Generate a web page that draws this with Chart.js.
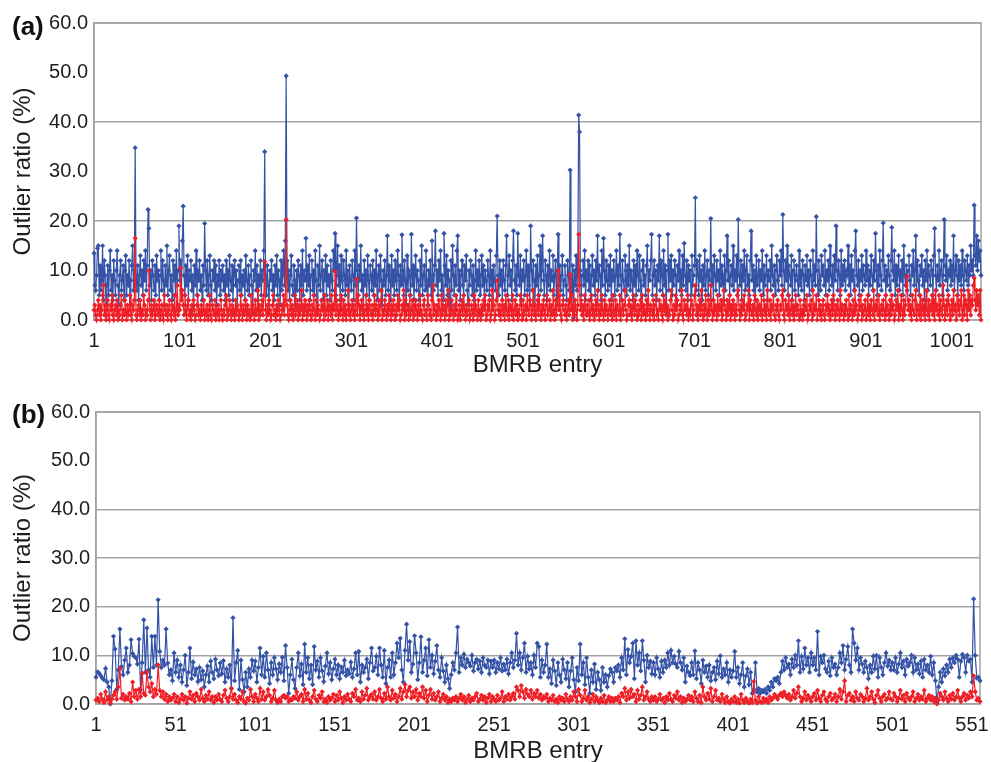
<!DOCTYPE html>
<html>
<head>
<meta charset="utf-8">
<title>Outlier ratio per BMRB entry</title>
<script src="https://cdn.jsdelivr.net/npm/chart.js@4.4.1/dist/chart.umd.min.js"></script>
<style>
    body {
        margin: 0;
        width: 991px;
        height: 762px;
        overflow: hidden;
        position: relative;
        background: #fff;
        font-family: "Liberation Sans", Arial, sans-serif;
    }
    canvas {
        position: absolute;
        left: 0;
    }
    .panel-label {
        position: absolute;
        left: 12px;
        z-index: 2;
        font-size: 26px;
        font-weight: bold;
        color: #111;
    }
</style>
</head>
<body>
<canvas id="chart-a" width="991" height="380" style="top:0"></canvas>
<canvas id="chart-b" width="991" height="386" style="top:380px"></canvas>
<div class="panel-label" style="top:11px">(a)</div>
<div class="panel-label" style="top:399px">(b)</div>

<script>
// ---- data ----

// panel (a): 1035 entries, 25 per row
const blueA = [
    13.5, 7, 6, 9, 14.5, 15, 5, 11, 6, 8, 15, 4, 12, 9, 3, 7, 11, 5, 10, 14, 6, 9, 4, 12, 8,
    5, 10, 14, 7, 3, 9, 12, 6, 8, 11, 4, 10, 13, 5, 9, 7, 12, 3, 8, 11, 15, 6, 10, 34.8, 9,
    6, 11, 4, 9, 13, 7, 10, 5, 12, 8, 14, 6, 11, 22.3, 18.5, 7, 10, 4, 12, 9, 6, 11, 5, 13, 8,
    10, 4, 9, 14, 6, 12, 8, 3, 11, 7, 15, 5, 10, 13, 6, 9, 4, 12, 8, 11, 5, 14, 7, 10, 19,
    8, 12, 6, 16, 23, 9, 5, 11, 7, 13, 4, 10, 8, 12, 6, 9, 3, 11, 7, 14, 5, 10, 8, 12, 6,
    9, 4, 11, 7, 19.5, 10, 6, 12, 5, 9, 13, 7, 4, 10, 8, 12, 6, 11, 3, 9, 7, 12, 5, 10, 8,
    11, 6, 9, 4, 12, 7, 10, 5, 13, 8, 6, 11, 4, 9, 12, 7, 10, 3, 8, 11, 6, 12, 5, 9, 7,
    10, 4, 13, 8, 6, 11, 5, 9, 12, 7, 1.5, 10, 8, 14, 6, 11, 4, 9, 7, 12, 5, 10, 8, 14, 34,
    9, 5, 11, 7, 3, 10, 8, 12, 6, 9, 4, 11, 7, 13, 5, 10, 8, 3, 12, 6, 9, 14, 7, 16, 49.3,
    12, 6, 10, 4, 9, 13, 7, 5, 11, 8, 3, 10, 6, 12, 9, 4, 11, 7, 14, 5, 10, 8, 16.5, 6, 11,
    7, 13, 4, 9, 12, 6, 10, 5, 14, 8, 2, 11, 7, 15, 6, 9, 12, 4, 10, 8, 13, 5, 11, 7, 9,
    4, 12, 8, 6, 14, 10, 17.5, 5, 9, 15, 7, 11, 4, 13, 8, 6, 12, 9, 5, 14, 7, 10, 3, 11, 8,
    6, 12, 9, 4, 14, 7, 20.6, 10, 5, 11, 8, 15, 6, 9, 2, 12, 7, 10, 5, 13, 8, 4, 11, 9, 6,
    12, 5, 10, 7, 14, 4, 9, 11, 6, 13, 8, 3, 10, 7, 12, 5, 9, 17, 6, 11, 8, 4, 13, 7, 10,
    5, 12, 8, 6, 14, 9, 4, 11, 7, 17.2, 10, 5, 12, 8, 3, 13, 6, 10, 9, 5, 17.3, 7, 11, 4, 9,
    13, 6, 10, 8, 4, 12, 7, 15, 5, 9, 11, 6, 14, 8, 3, 10, 7, 12, 5, 16, 9, 6, 11, 18, 7,
    10, 5, 12, 8, 14, 6, 9, 4, 17.5, 11, 7, 13, 5, 10, 8, 1, 12, 6, 15, 9, 5, 11, 7, 14, 17,
    6, 10, 4, 9, 12, 7, 5, 11, 8, 13, 6, 3, 10, 7, 12, 9, 5, 11, 4, 8, 14, 6, 10, 7, 12,
    5, 9, 13, 7, 11, 4, 10, 8, 6, 12, 9, 5, 14, 7, 10, 3, 11, 8, 6, 13, 21, 9, 5, 12, 7,
    10, 4, 12, 8, 6, 11, 17, 5, 9, 13, 7, 10, 4, 12, 18, 8, 6, 11, 5, 17.5, 9, 7, 13, 4, 10,
    8, 12, 5, 9, 14, 6, 11, 7, 4, 19, 10, 6, 12, 8, 3, 11, 7, 13, 5, 9, 15, 6, 10, 17, 8,
    5, 12, 9, 4, 11, 7, 14, 6, 10, 8, 13, 5, 9, 12, 4, 10, 17.3, 7, 11, 6, 9, 13, 5, 8, 11,
    7, 4, 12, 9, 6, 30.3, 8, 5, 11, 0.5, 10, 7, 13, 6, 12, 41.4, 38, 10, 5, 9, 12, 7, 14, 4, 10,
    8, 12, 6, 11, 4, 9, 13, 7, 10, 5, 12, 8, 17, 6, 11, 9, 4, 14, 7, 16.5, 10, 5, 12, 8, 6,
    11, 7, 13, 4, 10, 8, 12, 5, 9, 14, 6, 11, 7, 17.3, 9, 4, 12, 8, 6, 13, 10, 5, 11, 7, 15,
    6, 10, 8, 4, 12, 7, 11, 5, 14, 9, 6, 13, 8, 2, 10, 12, 7, 9, 5, 11, 15, 6, 10, 8, 12,
    17.3, 5, 9, 12, 7, 10, 4, 11, 8, 17, 6, 12, 9, 5, 14, 7, 11, 1.5, 10, 17.3, 6, 12, 8, 13, 5,
    10, 7, 12, 9, 4, 11, 8, 14, 6, 10, 5, 13, 7, 15.5, 9, 6, 12, 4, 11, 8, 10, 5, 13, 7, 9,
    11, 24.7, 6, 12, 9, 5, 13, 8, 10, 4, 11, 7, 14, 6, 9, 12, 5, 10, 8, 20.5, 7, 11, 4, 13, 9,
    6, 12, 8, 10, 5, 14, 7, 11, 9, 4, 13, 6, 10, 17, 8, 12, 5, 9, 11, 7, 15, 6, 10, 8, 13,
    5, 20.3, 9, 7, 12, 4, 11, 8, 14, 6, 10, 13, 7, 9, 5, 12, 18, 8, 11, 6, 10, 4, 13, 7, 9,
    12, 6, 10, 8, 14, 5, 11, 7, 9, 13, 4, 10, 8, 12, 6, 15, 9, 7, 11, 5, 10, 13, 8, 6, 12,
    9, 14, 7, 21.3, 10, 6, 12, 8, 15, 5, 11, 9, 7, 13, 4, 10, 12, 6, 9, 11, 8, 5, 14, 7, 10,
    6, 12, 9, 4, 11, 8, 13, 7, 10, 5, 12, 9, 6, 14, 8, 11, 7, 20.9, 10, 5, 12, 8, 6, 13, 9,
    11, 7, 14, 5, 10, 8, 12, 6, 15, 9, 7, 11, 4, 13, 8, 19, 10, 6, 12, 9, 5, 14, 7, 11, 8,
    12, 6, 10, 9, 15, 7, 11, 5, 13, 8, 10, 6, 14, 18, 9, 7, 12, 5, 10, 8, 13, 6, 11, 9, 7,
    14, 8, 11, 5, 10, 7, 13, 9, 6, 12, 8, 17.5, 10, 5, 11, 7, 14, 9, 6, 12, 19.6, 8, 11, 5, 10,
    7, 13, 9, 6, 12, 18.7, 10, 8, 14, 5, 11, 7, 9, 13, 6, 10, 8, 12, 5, 15, 9, 7, 11, 6, 10,
    13, 8, 5, 11, 9, 14, 7, 10, 17, 6, 12, 8, 5, 11, 9, 13, 7, 10, 4, 12, 8, 14, 6, 11, 9,
    7, 12, 10, 5, 13, 18.5, 9, 6, 11, 8, 14, 7, 10, 12, 5, 9, 20.3, 11, 8, 13, 6, 10, 9, 12, 7,
    11, 8, 17, 6, 10, 13, 9, 5, 12, 8, 11, 7, 14, 9, 6, 12, 10, 8, 13, 7, 11, 9, 15, 10, 12,
    9, 23.2, 13, 11, 17, 10, 16, 12, 14, 9
];

const redA = [
    2, 3, 1, 0, 2, 4, 1, 3, 0, 2, 5, 7, 1, 3, 0, 2, 4, 1, 0, 3, 2, 5, 1, 0, 2,
    3, 1, 4, 0, 2, 1, 3, 5, 0, 2, 1, 4, 2, 0, 3, 1, 2, 5, 1, 0, 3, 2, 4, 16.5, 1,
    0, 2, 3, 1, 4, 0, 2, 1, 5, 3, 0, 2, 1, 4, 10, 2, 0, 3, 1, 2, 4, 0, 1, 3, 2,
    1, 4, 0, 2, 3, 1, 0, 5, 2, 1, 3, 0, 2, 4, 1, 0, 3, 2, 1, 5, 0, 2, 7, 1, 3,
    2, 10.5, 4, 6, 3, 1, 5, 2, 0, 3, 4, 1, 2, 0, 3, 1, 4, 2, 0, 1, 3, 5, 1, 2, 0,
    3, 1, 2, 4, 0, 2, 1, 3, 0, 2, 5, 1, 0, 3, 2, 1, 4, 0, 2, 1, 3, 0, 2, 4, 1,
    0, 2, 1, 3, 5, 0, 2, 1, 4, 2, 0, 3, 1, 2, 0, 4, 1, 3, 2, 0, 1, 5, 2, 0, 3,
    1, 2, 4, 0, 3, 1, 2, 0, 5, 1, 3, 2, 0, 4, 1, 2, 6, 0, 3, 1, 2, 4, 1, 5, 11.8,
    2, 0, 3, 1, 4, 2, 0, 1, 3, 5, 1, 2, 0, 3, 1, 4, 2, 0, 1, 3, 2, 5, 1, 4, 20.3,
    3, 1, 0, 2, 4, 1, 3, 0, 2, 5, 1, 2, 4, 0, 3, 1, 2, 6, 0, 3, 1, 4, 2, 0, 3,
    1, 4, 2, 0, 3, 1, 5, 2, 0, 4, 1, 3, 2, 0, 1, 4, 2, 3, 0, 5, 1, 2, 4, 0, 3,
    2, 1, 5, 0, 3, 2, 9.8, 1, 4, 2, 0, 3, 1, 5, 2, 0, 4, 1, 3, 0, 2, 6, 1, 3, 0,
    2, 4, 1, 3, 0, 2, 8.2, 1, 5, 3, 0, 2, 4, 1, 3, 0, 2, 5, 1, 3, 0, 4, 2, 1, 3,
    0, 2, 5, 1, 3, 2, 0, 4, 1, 3, 6, 0, 2, 1, 4, 2, 0, 3, 1, 5, 2, 0, 3, 1, 4,
    2, 0, 3, 1, 5, 2, 4, 0, 1, 3, 2, 6, 0, 4, 1, 2, 3, 0, 5, 1, 2, 4, 0, 3, 1,
    4, 2, 0, 3, 1, 5, 2, 1, 0, 3, 4, 1, 2, 0, 5, 3, 1, 2, 0, 4, 7, 1, 3, 2, 0,
    3, 1, 4, 2, 0, 5, 1, 3, 2, 0, 4, 1, 3, 6, 0, 2, 1, 4, 2, 0, 3, 1, 5, 2, 0,
    1, 3, 0, 2, 4, 1, 5, 2, 0, 3, 1, 2, 4, 0, 1, 3, 2, 0, 5, 1, 3, 2, 0, 4, 1,
    2, 0, 3, 1, 4, 2, 5, 0, 1, 3, 2, 4, 0, 1, 6, 2, 3, 0, 1, 4, 8, 2, 1, 3, 0,
    2, 4, 1, 3, 0, 5, 2, 1, 4, 0, 3, 2, 1, 5, 0, 2, 4, 1, 3, 0, 2, 1, 5, 3, 0,
    4, 1, 2, 3, 0, 5, 2, 1, 4, 3, 0, 2, 6, 1, 3, 0, 2, 4, 1, 5, 2, 0, 3, 1, 4,
    2, 0, 3, 5, 1, 2, 4, 0, 3, 1, 6, 2, 0, 4, 1, 3, 10, 2, 5, 1, 0, 3, 4, 2, 1,
    3, 0, 2, 4, 1, 9.2, 2, 5, 0, 3, 1, 4, 2, 0, 3, 17.3, 7, 2, 4, 1, 3, 0, 5, 2, 1,
    3, 1, 4, 0, 2, 5, 1, 3, 0, 2, 4, 1, 6, 2, 0, 3, 1, 5, 2, 0, 4, 1, 3, 2, 0,
    2, 4, 1, 3, 0, 5, 2, 1, 4, 0, 3, 2, 1, 5, 0, 2, 4, 1, 3, 6, 2, 0, 1, 3, 4,
    1, 3, 0, 2, 5, 1, 4, 2, 0, 3, 1, 2, 4, 0, 5, 1, 3, 2, 0, 4, 1, 6, 2, 0, 3,
    2, 1, 4, 0, 3, 5, 1, 2, 0, 4, 2, 3, 1, 0, 5, 2, 4, 1, 3, 0, 2, 1, 4, 6, 2,
    0, 3, 1, 5, 2, 4, 0, 1, 3, 2, 6, 1, 0, 4, 2, 3, 1, 5, 0, 2, 1, 4, 3, 0, 2,
    5, 7, 1, 3, 0, 2, 4, 1, 6, 2, 0, 3, 1, 5, 2, 0, 4, 1, 3, 7, 2, 0, 4, 1, 3,
    2, 0, 5, 1, 3, 2, 4, 0, 1, 6, 3, 2, 0, 4, 1, 2, 5, 0, 3, 1, 4, 2, 0, 3, 1,
    5, 6, 2, 0, 3, 1, 4, 2, 5, 0, 1, 3, 2, 6, 0, 4, 2, 1, 3, 0, 5, 2, 1, 4, 0,
    2, 3, 1, 5, 0, 2, 4, 1, 3, 0, 6, 2, 1, 4, 0, 3, 2, 5, 1, 0, 3, 2, 4, 1, 0,
    3, 2, 5, 6, 1, 0, 4, 2, 3, 1, 5, 0, 2, 4, 1, 3, 0, 2, 5, 1, 3, 2, 0, 4, 1,
    2, 0, 3, 1, 4, 2, 5, 0, 1, 3, 2, 4, 0, 6, 1, 3, 2, 5, 0, 2, 4, 1, 3, 0, 2,
    4, 1, 0, 3, 2, 5, 1, 3, 0, 2, 4, 1, 5, 2, 0, 3, 1, 4, 2, 0, 6, 1, 3, 2, 0,
    3, 1, 4, 2, 0, 5, 1, 3, 2, 0, 4, 1, 6, 2, 3, 0, 1, 4, 2, 5, 0, 3, 1, 2, 4,
    0, 2, 5, 1, 3, 0, 4, 2, 1, 6, 0, 3, 2, 4, 1, 5, 0, 2, 3, 1, 4, 2, 0, 5, 1,
    3, 2, 0, 4, 1, 5, 2, 3, 0, 1, 4, 2, 6, 0, 3, 1, 5, 2, 0, 4, 1, 3, 7, 8.8, 2,
    4, 1, 3, 0, 5, 2, 1, 4, 6, 0, 3, 2, 1, 5, 0, 2, 4, 1, 3, 0, 6, 2, 1, 4, 0,
    3, 2, 5, 1, 4, 0, 6, 2, 3, 1, 5, 0, 4, 2, 1, 7, 3, 0, 2, 4, 1, 5, 3, 0, 2,
    4, 1, 6, 2, 3, 0, 5, 2, 4, 1, 3, 6, 0, 2, 5, 1, 4, 3, 0, 6, 2, 5, 1, 4, 3,
    7, 8.5, 4, 2, 6, 3, 5, 1, 6, 0
];

// panel (b): 556 entries, 25 per row
const blueB = [
    5.5, 6.6, 6.3, 5.8, 5.3, 5, 7.3, 4.5, 3.5, 0, 4.8, 13.9, 11.3, 3, 7, 15.4, 7.7, 6, 9, 11.5, 6.5, 8, 13.2, 10.4, 9.8,
    9.5, 8.2, 13.3, 2.9, 8.5, 17.3, 6.5, 15.6, 7, 5.5, 13.9, 7.5, 13.9, 8, 21.4, 10.8, 7.5, 9, 8, 15.4, 8.4, 6, 7, 4.8, 10.5,
    6.5, 9, 5.5, 8, 4.5, 7, 10, 3.8, 6.5, 11.5, 5.2, 8.6, 6, 7.2, 4.6, 7.5, 5, 6.8, 3.5, 6, 7.8, 4.5, 8.8, 6.5, 5.2,
    9.2, 7, 5.8, 8.4, 6.2, 8.9, 4.5, 7.2, 5.5, 8, 3.2, 17.7, 4.8, 8.5, 11, 3, 9, 5, 2.5, 6.5, 3.5, 7.2, 5.5, 9, 6.8,
    8.8, 4.5, 7.5, 11.5, 6, 9.8, 5.5, 10.5, 7, 4.2, 8.5, 6, 9.5, 7.2, 5, 8.2, 6.5, 9.6, 4.8, 12, 7.5, 2.2, 6, 9.2, 5,
    3.2, 7.5, 10.5, 5.8, 8.2, 4, 12.3, 6.5, 9.5, 5.2, 8, 4, 11.8, 7, 8.8, 5.5, 9.5, 6.8, 4.6, 7.8, 10.5, 6.2, 8.5, 5, 7.2,
    9.2, 6, 8, 5.2, 7.6, 6.5, 9, 5.8, 7, 6.2, 8.6, 5.5, 7.2, 10.5, 6, 10.8, 4.5, 8, 6.5, 7.5, 9.2, 5.2, 8.5, 11.5, 6.8,
    7.5, 9.8, 6, 11.5, 8, 5.5, 11, 4.2, 7.5, 9, 5.5, 10.5, 6, 8.5, 12.5, 9.5, 13.5, 7, 4.5, 11, 16.4, 9, 12.8, 6.5, 8.2,
    14, 10.5, 5, 8.5, 13.8, 6.5, 9, 11.5, 5.8, 13.2, 7.5, 10, 6.2, 8.8, 12, 7, 5.5, 9.5, 6.8, 4.5, 8, 5.2, 3.2, 6, 8.5,
    7, 10.5, 15.8, 6.5, 9.5, 8, 10.2, 7.5, 9.2, 8.5, 7.8, 10, 6.8, 8.5, 9.2, 7.2, 8.8, 6.5, 9.5, 8, 7.5, 9, 6.2, 8.8, 7.5,
    9, 6.5, 8.5, 7.2, 9.5, 6.8, 8.2, 7, 9.2, 6.2, 8.5, 10.5, 7.5, 9, 14.5, 8, 10.5, 7, 9.5, 12.5, 6.5, 9.8, 7.2, 8.5, 6,
    10, 7.5, 12.5, 11.8, 5.5, 9, 6.5, 8, 12.3, 5.5, 7.2, 4.2, 9, 6.8, 3.8, 8.5, 6, 4.5, 9.2, 7, 5.2, 8.5, 3.5, 6.8, 9.5,
    5, 2.5, 7.5, 4.8, 12.3, 6, 8.5, 4, 9.5, 5.5, 2.2, 7, 4.5, 8.2, 3, 6.5, 5, 2.8, 7.5, 4.5, 6, 3.5, 5.8, 7.2, 6.5,
    4.5, 7.5, 6.8, 8, 5.5, 9.5, 7, 13.4, 6, 11.2, 8.5, 9.8, 12.5, 5.2, 13, 8, 10.5, 6.8, 13, 9, 4.5, 10, 7.5, 8.8, 6.2,
    8.5, 6, 9.5, 7.2, 5.5, 8.8, 6.5, 9, 7.5, 10.5, 8, 11, 8.5, 9.8, 8.2, 7.5, 10.8, 8.5, 7, 9.5, 4.5, 7.8, 6.5, 5.8, 8.5,
    6, 10.9, 5.2, 8.5, 7, 4.2, 9, 6.5, 7.8, 5.5, 8, 4.8, 6.5, 7.5, 5, 8.8, 6.2, 9.9, 5.5, 7.2, 6, 8.5, 4.5, 7, 5.5,
    6.8, 10.8, 5.5, 7.5, 4.2, 6, 8.5, 3.5, 5.8, 7.2, 4, 6.5, 2.2, 3, 8.5, 2.5, 3.2, 2.2, 2.8, 2.5, 3, 2.2, 3.5, 2.8, 4.5,
    3.5, 5.2, 4.8, 5.5, 4.2, 6.5, 8.8, 7, 9.5, 7.5, 8.2, 6, 9.2, 7.5, 10, 8, 13, 6.5, 9.8, 7.2, 11.5, 8, 9.5, 6.5, 10.5,
    8, 9.5, 7, 14.9, 6, 9.8, 8.5, 10, 7.2, 6.5, 8.8, 5.8, 9.5, 7.5, 8.2, 6, 7.5, 10.5, 8.5, 12, 7, 9.2, 11.8, 8, 6.5,
    15.4, 12.5, 9, 11.5, 7, 9.5, 8.2, 6.5, 8.8, 7.5, 5.2, 8, 6.5, 9.8, 7.2, 10, 5.5, 9.5, 7.5, 6, 8.5, 10.5, 7.8, 9, 7,
    8.5, 7, 9.5, 6.5, 8.2, 10.5, 7.5, 8.8, 6, 9.2, 7.8, 8.5, 10, 6.5, 9.5, 7, 8.2, 6.2, 8.8, 5.5, 9.2, 7, 8, 6.5, 9.8,
    6, 8.5, 4.8, 0.2, 3.5, 6.5, 4.5, 7.2, 5.8, 8, 6.5, 9.2, 7.5, 9.5, 8.5, 10, 9.2, 5.5, 8.8, 10.2, 9.5, 6.5, 10, 8.8, 9.2,
    4.5, 21.6, 10, 5.3, 5.5, 4.8
];

const redB = [
    0.8, 1.2, 0.5, 2, 1, 0.3, 2.5, 0.8, 1.5, 0.2, 1, 1.8, 2.5, 1, 3.5, 7.3, 1.2, 2, 0.8, 1.5, 1, 2.2, 0.5, 4.5, 1.5,
    2.8, 1, 3, 1.5, 6.3, 2.2, 1.8, 6.6, 3.5, 2.5, 4.2, 1.5, 3, 2, 8, 2.8, 1.5, 2.5, 1, 2, 0.5, 1.5, 0.8, 1.2, 2,
    0.5, 1.5, 0.3, 1, 2, 0.8, 1.5, 0.2, 1.2, 2.5, 1, 1.8, 0.5, 2.2, 1.5, 0.8, 3, 1.2, 0.5, 1.8, 1, 2.5, 0.8, 1.5, 0.3,
    1.5, 0.8, 2, 1, 0.5, 1.8, 2.8, 1.2, 0.5, 1.5, 3.2, 1, 2, 0.8, 0.3, 1.5, 1, 2.5, 0.5, 0.2, 1.2, 0.8, 3, 1.5, 0.5,
    2, 1.2, 0.5, 3.2, 1, 2.5, 0.8, 1.5, 3, 1.8, 0.5, 1.2, 2.8, 0.8, 0.3, 1, 0.5, 1.5, 1.8, 1.2, 1.5, 0.5, 1, 0.8, 1.5,
    1.2, 2.5, 0.8, 1.5, 2, 0.5, 3, 1, 2.2, 0.8, 0.3, 1.5, 2.8, 1, 0.5, 1.8, 1.2, 2.5, 0.5, 1, 0.3, 1.5, 0.8, 1.2, 2,
    0.5, 1.8, 0.8, 2.5, 1.2, 0.3, 1.5, 0.8, 2, 1, 0.5, 2.2, 1.5, 3, 0.8, 1.2, 0.5, 2.5, 1, 1.8, 3.2, 0.8, 1.5, 2, 1,
    2.5, 0.8, 1.5, 3, 1.2, 0.5, 2.2, 1, 3.5, 1.5, 0.8, 2.8, 1.2, 2, 0.5, 1.5, 3.2, 1, 2.5, 4, 1.5, 2.8, 3.5, 1.2, 2.5,
    1.5, 3, 0.8, 2.2, 1.5, 3.5, 1.2, 2.8, 0.5, 1.8, 3, 1, 2.2, 0.8, 1.5, 2.5, 0.5, 1.2, 2, 0.8, 1.5, 0.3, 1, 0.5, 1.2,
    0.8, 1.5, 0.5, 1.2, 2, 0.8, 1.5, 0.3, 1, 1.8, 0.5, 1.2, 0.8, 1.5, 2.2, 0.5, 1, 1.8, 0.8, 1.5, 0.3, 1.2, 2, 0.5, 1.5,
    1, 0.5, 1.8, 0.8, 1.2, 2.5, 0.5, 1.5, 1, 2, 0.8, 1.5, 2.2, 1, 3.5, 2.8, 1.5, 3.8, 2.5, 1.2, 3, 2, 1.5, 2.8, 1,
    2.2, 1.5, 2.8, 1.2, 2, 0.8, 1.5, 1.2, 2, 0.5, 1.2, 0.8, 1.8, 0.5, 1, 0.3, 1.5, 0.8, 1.2, 0.5, 2, 1, 0.5, 1.5, 0.8,
    2.5, 1.5, 0.5, 3, 1.8, 0.5, 1.2, 2.8, 0.8, 1.5, 0.3, 1, 2, 0.5, 1.5, 0.8, 0.3, 1.2, 0.5, 1.8, 0.3, 0.8, 1.5, 0.5, 1.2,
    0.5, 1.2, 0.8, 1.5, 0.3, 2.2, 1.5, 3.2, 0.8, 2.5, 1.2, 3, 1.5, 2, 0.5, 2.8, 1, 1.8, 3.5, 0.8, 1.5, 2.5, 1, 0.5, 1.5,
    0.8, 1.5, 0.5, 1, 2, 0.8, 1.2, 0.3, 1.5, 0.8, 2.2, 1, 0.5, 1.8, 1.2, 2.5, 0.8, 1.5, 0.3, 1.2, 0.5, 1, 1.8, 0.8, 1.5,
    0.5, 2.5, 1.2, 0.5, 1.8, 0.3, 3.5, 1.5, 0.8, 2.2, 1, 3.2, 0.5, 1.5, 2.8, 0.8, 1.2, 0.5, 2, 1, 0.3, 1.5, 0.5, 0.2, 1,
    0.5, 1.5, 0.3, 1, 0.2, 2, 0.8, 0.3, 1.2, 0.5, 0.2, 1, 0.3, 4.6, 0.8, 0.2, 1.5, 0.5, 0.3, 1.2, 0.5, 1, 0.3, 1.5, 0.8,
    1.2, 2, 1.5, 1, 1.8, 2.2, 1.5, 2.5, 1.8, 1.2, 2, 0.8, 1.5, 2.8, 1.2, 2.2, 3.5, 1.5, 0.5, 1.2, 2.5, 0.8, 1.8, 1.2, 0.5,
    1.5, 2.2, 0.8, 2.8, 1.2, 0.5, 1.8, 2.5, 1, 0.5, 1.5, 2.2, 0.8, 1.2, 2, 0.5, 1.5, 3, 1, 2.5, 4.8, 0.5, 1.8, 2.2, 0.8,
    1.5, 0.5, 2.5, 1.2, 0.8, 2, 1.5, 0.5, 1.2, 3.2, 0.8, 1.5, 2.5, 1, 0.3, 1.8, 2.8, 1.2, 0.5, 1.5, 2, 0.8, 1.2, 2.5, 1,
    0.8, 2.2, 1.5, 0.5, 1.2, 2.8, 1, 1.8, 0.5, 2.2, 1.2, 0.8, 1.5, 2.5, 0.5, 1.2, 2, 0.8, 1.5, 1, 2.8, 0.5, 1.2, 1.8, 0.8,
    1.5, 0.5, 1.2, 0, 0.8, 2.2, 1.5, 0.8, 2.5, 1.2, 0.5, 1.8, 1, 2.2, 0.8, 1.5, 2.8, 1.2, 0.5, 1.5, 2.2, 0.8, 1.8, 1.2, 2.5,
    1.5, 5.8, 2.5, 0.8, 1.2, 0.5
];

// tick labels
const xTicksA = [1, 101, 201, 301, 401, 501, 601, 701, 801, 901, 1001];
const xTicksB = [1, 51, 101, 151, 201, 251, 301, 351, 401, 451, 501, 551];
const yTicks = [0, 10, 20, 30, 40, 50, 60];
// horizontal gridlines that survive in each panel of the figure
const gridA = [20, 40, 60];
const gridB = [10, 20, 30, 40, 60];

const BLUE = '#3452a6';
const RED = '#ee1f26';
const GRID = '#a3a3a3';
const TEXT = '#1e1e1e';

Chart.defaults.font.family = '"Liberation Sans", Arial, sans-serif';

// grey frame around the plot area
const framePlugin = {
    id: 'frame',
    beforeDatasetsDraw(chart) {
        const { ctx, chartArea } = chart;
        ctx.save();
        ctx.strokeStyle = GRID;
        ctx.lineWidth = 1.5;
        ctx.strokeRect(chartArea.left, chartArea.top, chartArea.right - chartArea.left, chartArea.bottom - chartArea.top);
        ctx.restore();
    }
};

function toPoints(values) {
    return values.map((v, i) => ({ x: i + 1, y: v }));
}

/**
 * 建立一個面板
 */
function makePanel(canvasId, blue, red, cfg) {
    const ctx = document.getElementById(canvasId).getContext('2d');
    return new Chart(ctx, {
        type: 'line',
        data: {
            datasets: [
                { label: 'red', data: toPoints(red), borderColor: RED, backgroundColor: RED, order: 1, clip: false },
                { label: 'blue', data: toPoints(blue), borderColor: BLUE, backgroundColor: BLUE, order: 2, clip: false }
            ]
        },
        options: {
            responsive: false,
            animation: false,
            layout: { padding: { top: cfg.top, right: cfg.right, left: 0, bottom: 0 } },
            plugins: { legend: { display: false }, tooltip: { enabled: false } },
            elements: {
                line: { borderWidth: 1.2, tension: 0 },
                point: { pointStyle: 'rectRot', radius: 2.6, borderWidth: 0 }
            },
            scales: {
                x: {
                    type: 'linear',
                    min: 1,
                    max: cfg.count,
                    afterBuildTicks: scale => { scale.ticks = cfg.xTicks.map(v => ({ value: v })); },
                    afterFit: scale => {
                        scale.height = cfg.xHeight;
                        // 不讓末端刻度文字把繪圖區往內推
                        scale.paddingLeft = 0;
                        scale.paddingRight = 0;
                    },
                    grid: { display: false, drawTicks: false },
                    border: { display: true, color: GRID, width: 1.5 },
                    ticks: {
                        autoSkip: false,
                        maxRotation: 0,
                        padding: 9,
                        color: TEXT,
                        font: { size: 20 },
                        callback: v => String(v)
                    },
                    title: { display: true, text: 'BMRB entry', color: TEXT, font: { size: 24 }, padding: 0 }
                },
                y: {
                    min: 0,
                    max: 60,
                    afterBuildTicks: scale => { scale.ticks = yTicks.map(v => ({ value: v })); },
                    afterFit: scale => { scale.width = cfg.yWidth; },
                    grid: {
                        drawTicks: false,
                        lineWidth: 1.5,
                        color: c => cfg.grid.includes(c.tick.value) ? GRID : 'rgba(0,0,0,0)'
                    },
                    border: { display: true, color: GRID, width: 1.5 },
                    ticks: {
                        padding: 6,
                        color: TEXT,
                        font: { size: 20 },
                        callback: v => v.toFixed(1)
                    },
                    title: { display: true, text: 'Outlier ratio (%)', color: TEXT, font: { size: 24 }, padding: { top: 9, bottom: 0 } }
                }
            }
        },
        plugins: [framePlugin]
    });
}

makePanel('chart-a', blueA, redA, {
    count: 1035, xTicks: xTicksA, grid: gridA,
    top: 23, right: 10, yWidth: 94, xHeight: 60
});

makePanel('chart-b', blueB, redB, {
    count: 556, xTicks: xTicksB, grid: gridB,
    top: 32, right: 11, yWidth: 96, xHeight: 62
});
</script>
</body>
</html>
